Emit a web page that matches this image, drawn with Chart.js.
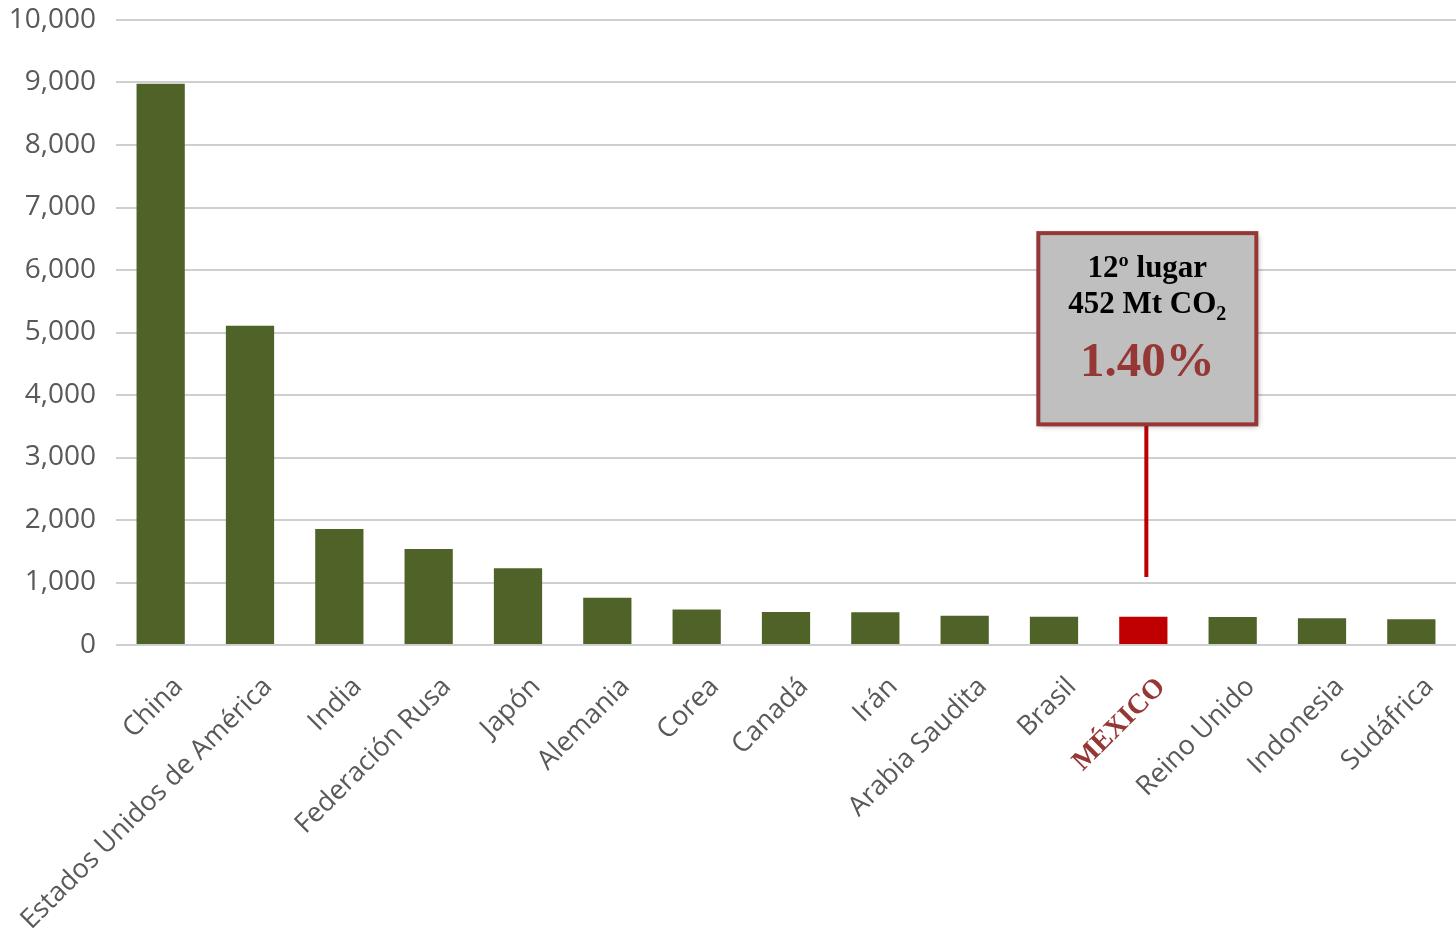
<!DOCTYPE html>
<html>
<head>
<meta charset="utf-8">
<script src="https://cdn.jsdelivr.net/npm/chart.js@4"></script>
<style>
  html, body { margin: 0; padding: 0; background: #fff; }
  #wrap { width: 1456px; height: 932px; }
</style>
</head>
<body>
<div id="wrap"><canvas id="emisiones"></canvas></div>
<script>
const paises = ['China', 'Estados Unidos de América', 'India', 'Federación Rusa', 'Japón', 'Alemania', 'Corea', 'Canadá', 'Irán', 'Arabia Saudita', 'Brasil', 'MÉXICO', 'Reino Unido', 'Indonesia', 'Sudáfrica'];
const emisiones = [8980, 5110, 1855, 1535, 1230, 755, 570, 528, 525, 468, 452, 452, 450, 430, 412];
const yTicks = [0, 1000, 2000, 3000, 4000, 5000, 6000, 7000, 8000, 9000, 10000];
const idxMexico = 11;
const notaLineas = ['12º lugar', '452 Mt CO', '1.40%'];

const verde = '#4f6228';
const rojo = '#c00000';
const guinda = '#953735';

const notaMexico = {
  id: 'notaMexico',
  afterDraw(chart) {
    const c = chart.ctx;
    const x = chart.scales.x.getPixelForValue(idxMexico);
    const y = chart.scales.y;
    const cx = x + 4;
    const top = y.getPixelForValue(6590);
    const bottom = y.getPixelForValue(3530);
    const w = 218;
    const left = cx - w / 2;

    c.save();
    // linea conectora
    c.strokeStyle = rojo;
    c.lineWidth = 4;
    c.beginPath();
    c.moveTo(cx - 1, bottom);
    c.lineTo(cx - 1, y.getPixelForValue(1090));
    c.stroke();

    // caja
    c.shadowColor = 'rgba(0,0,0,0.35)';
    c.shadowBlur = 6;
    c.shadowOffsetX = 2;
    c.shadowOffsetY = 2;
    c.fillStyle = '#bfbfbf';
    c.fillRect(left, top, w, bottom - top);
    c.shadowColor = 'transparent';
    c.strokeStyle = guinda;
    c.lineWidth = 4;
    c.strokeRect(left, top, w, bottom - top);

    c.textAlign = 'center';
    c.textBaseline = 'alphabetic';
    c.fillStyle = '#000';
    c.font = 'bold 31px "Liberation Serif", "Times New Roman", serif';
    c.fillText(notaLineas[0], cx, top + 44);

    const t2 = notaLineas[1];
    const w2 = c.measureText(t2).width;
    c.font = 'bold 20px "Liberation Serif", serif';
    const ws = c.measureText('2').width;
    const start = cx - (w2 + ws) / 2;
    c.textAlign = 'left';
    c.font = 'bold 31px "Liberation Serif", serif';
    c.fillText(t2, start, top + 80);
    c.font = 'bold 20px "Liberation Serif", serif';
    c.fillText('2', start + w2, top + 87);

    c.textAlign = 'center';
    c.fillStyle = guinda;
    c.font = 'bold 49px "Liberation Serif", serif';
    c.fillText(notaLineas[2], cx, top + 143);
    c.restore();
  }
};

const ctx = document.getElementById('emisiones').getContext('2d');
const grafico = new Chart(ctx, {
  type: 'bar',
  data: {
    labels: paises,
    datasets: [{
      label: 'Mt CO2',
      data: emisiones,
      backgroundColor: paises.map((p, i) => i === idxMexico ? rojo : verde),
      borderWidth: 0,
      barPercentage: 0.54,
      categoryPercentage: 1
    }]
  },
  options: {
    responsive: true,
    maintainAspectRatio: false,
    animation: false,
    layout: { padding: { top: 20, right: 0, left: 0, bottom: 0 } },
    plugins: {
      legend: { display: false },
      tooltip: { enabled: false }
    },
    scales: {
      x: {
        grid: { display: false },
        border: { display: false },
        afterFit(scale) { scale.height = 287; },
        ticks: {
          autoSkip: false,
          minRotation: 45,
          maxRotation: 45,
          padding: 18,
          labelOffset: 18,
          color: (c) => c.index === idxMexico ? guinda : '#595959',
          font: (c) => c.index === idxMexico
            ? { family: '"Liberation Serif", serif', size: 28, weight: 'bold' }
            : { family: '"Open Sans", sans-serif', size: 27 }
        }
      },
      y: {
        min: 0,
        max: 10000,
        afterFit(scale) {
          scale.width = 116;
          scale.paddingTop = 0;
          scale.paddingBottom = 0;
        },
        afterBuildTicks(scale) { scale.ticks = yTicks.map(v => ({ value: v })); },
        border: { display: false },
        grid: { color: '#cfcfcf', lineWidth: 2, drawTicks: false },
        ticks: {
          padding: 20,
          color: '#595959',
          font: { family: '"Open Sans", sans-serif', size: 28 },
          callback: (v) => v.toLocaleString('en-US')
        }
      }
    }
  },
  plugins: [notaMexico]
});
</script>
</body>
</html>
